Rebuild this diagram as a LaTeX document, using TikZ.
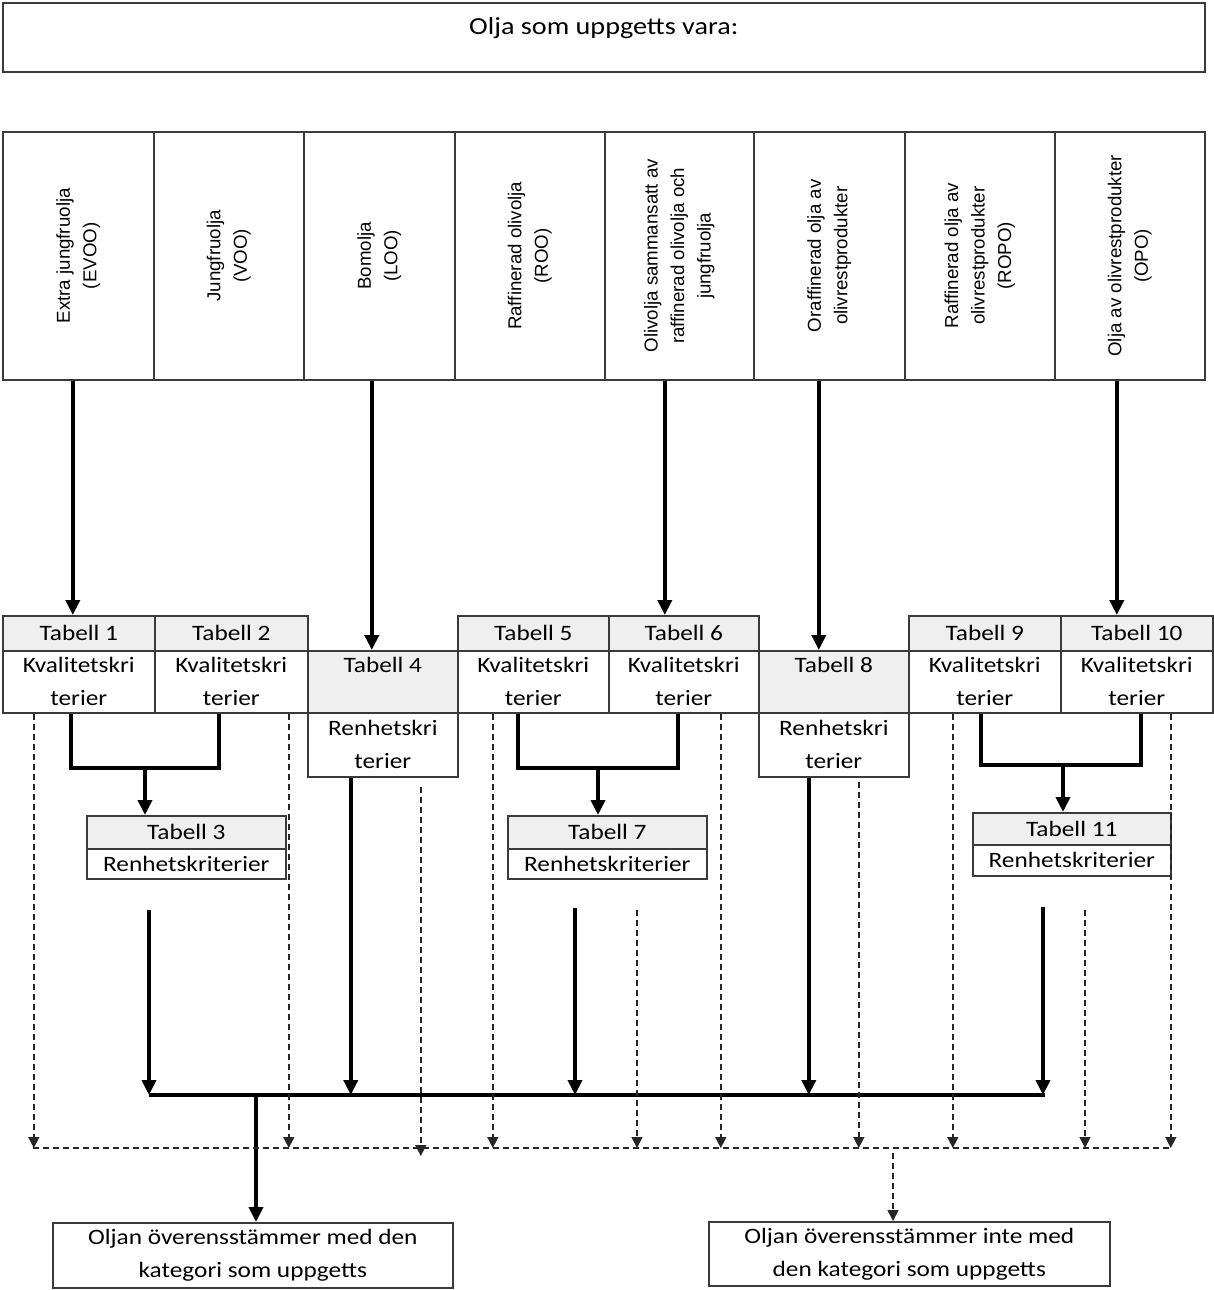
\documentclass[tikz,border=0pt]{standalone}
\usepackage{fontspec}
\setmainfont{Carlito}[FakeStretch=1.15]
\newfontfamily\rotfont{Liberation Sans}
\usetikzlibrary{arrows.meta,calc}
\definecolor{hdrgray}{HTML}{EFEFEF}
\definecolor{linegray}{HTML}{3A3A3A}
\begin{document}
\begin{tikzpicture}[x=1pt,y=-1pt,
  box/.style={draw=linegray, line width=1.6pt, inner sep=0pt, anchor=north west, align=center,
              font=\fontsize{22}{33}\selectfont},
  hdr/.style={box, fill=hdrgray},
  rottext/.style={rotate=90, align=center, inner sep=0pt, font=\rotfont\fontsize{18.7}{26.5}\selectfont},
  thk/.style={line width=4.5pt},
  thka/.style={thk, -{Triangle[width=14pt,length=15pt]}},
  dsh/.style={draw=black!85, line width=1.5pt, dash pattern=on 6pt off 4pt},
  dsha/.style={dsh, -{Triangle[width=11pt,length=11pt]}}
]
\useasboundingbox (0,0) rectangle (1214,1290);

% title
\node[box, minimum width=1202pt, minimum height=69pt, font=\fontsize{24.5}{30}\selectfont] (title) at (2,2)
  {\raisebox{23pt}{Olja som uppgetts vara:}};

% category boxes
\node[box, minimum width=151pt, minimum height=248pt] (c1) at (2,131) {};
\node[box, minimum width=150pt, minimum height=248pt] (c2) at (153,131) {};
\node[box, minimum width=151pt, minimum height=248pt] (c3) at (303,131) {};
\node[box, minimum width=150pt, minimum height=248pt] (c4) at (454,131) {};
\node[box, minimum width=149pt, minimum height=248pt] (c5) at (604,131) {};
\node[box, minimum width=151pt, minimum height=248pt] (c6) at (753,131) {};
\node[box, minimum width=150pt, minimum height=248pt] (c7) at (904,131) {};
\node[box, minimum width=150pt, minimum height=248pt] (c8) at (1054,131) {};

\node[rottext] (c1t) at (c1.center) {Extra jungfruolja\\(EVOO)};
\node[rottext] (c2t) at (c2.center) {Jungfruolja\\(VOO)};
\node[rottext] (c3t) at (c3.center) {Bomolja\\(LOO)};
\node[rottext] (c4t) at (c4.center) {Raffinerad olivolja\\(ROO)};
\node[rottext] (c5t) at (c5.center) {Olivolja sammansatt av\\raffinerad olivolja och\\jungfruolja};
\node[rottext] (c6t) at (c6.center) {Oraffinerad olja av\\olivrestprodukter};
\node[rottext] (c7t) at (c7.center) {Raffinerad olja av\\olivrestprodukter\\(ROPO)};
\node[rottext] (c8t) at (c8.center) {Olja av olivrestprodukter\\(OPO)};

% table row
\node[hdr, minimum width=152pt, minimum height=35pt] (t1h) at (2,615) {Tabell 1};
\node[box, minimum width=152pt, minimum height=62pt] (t1b) at (2,650) {Kvalitetskri\\terier};
\node[hdr, minimum width=153pt, minimum height=35pt] (t2h) at (154,615) {Tabell 2};
\node[box, minimum width=153pt, minimum height=62pt] (t2b) at (154,650) {Kvalitetskri\\terier};
\node[hdr, minimum width=150pt, minimum height=62pt] (t4g) at (307,650) {Tabell 4\\\phantom{terier}};
\node[box, minimum width=150pt, minimum height=64pt] (t4b) at (307,712) {Renhetskri\\terier};
\node[hdr, minimum width=151pt, minimum height=35pt] (t5h) at (457,615) {Tabell 5};
\node[box, minimum width=151pt, minimum height=62pt] (t5b) at (457,650) {Kvalitetskri\\terier};
\node[hdr, minimum width=150pt, minimum height=35pt] (t6h) at (608,615) {Tabell 6};
\node[box, minimum width=150pt, minimum height=62pt] (t6b) at (608,650) {Kvalitetskri\\terier};
\node[hdr, minimum width=150pt, minimum height=62pt] (t8g) at (758,650) {Tabell 8\\\phantom{terier}};
\node[box, minimum width=150pt, minimum height=64pt] (t8b) at (758,712) {Renhetskri\\terier};
\node[hdr, minimum width=152pt, minimum height=35pt] (t9h) at (908,615) {Tabell 9};
\node[box, minimum width=152pt, minimum height=62pt] (t9b) at (908,650) {Kvalitetskri\\terier};
\node[hdr, minimum width=152pt, minimum height=35pt] (t10h) at (1060,615) {Tabell 10};
\node[box, minimum width=152pt, minimum height=62pt] (t10b) at (1060,650) {Kvalitetskri\\terier};

% purity tables
\node[hdr, minimum width=199pt, minimum height=33pt] (t3h) at (86,815) {Tabell 3};
\node[box, minimum width=199pt, minimum height=30pt] (t3b) at (86,848) {Renhetskriterier};
\node[hdr, minimum width=199pt, minimum height=33pt] (t7h) at (507,815) {Tabell 7};
\node[box, minimum width=199pt, minimum height=30pt] (t7b) at (507,848) {Renhetskriterier};
\node[hdr, minimum width=198pt, minimum height=32pt] (t11h) at (972,812) {Tabell 11};
\node[box, minimum width=198pt, minimum height=31pt] (t11b) at (972,844) {Renhetskriterier};

% result boxes
\node[box, minimum width=400pt, minimum height=65pt] (ok) at (52,1222)
  {Oljan överensstämmer med den\\kategori som uppgetts};
\node[box, minimum width=401pt, minimum height=64pt] (notok) at (708,1221)
  {Oljan överensstämmer inte med\\den kategori som uppgetts};

% arrows from categories
\draw[thka] ([xshift=-5.5pt]c1.south) -- ([xshift=-6pt]t1h.north);
\draw[thka] ([xshift=-7.5pt]c3.south) -- ([xshift=-11pt]t4g.north);
\draw[thka] ([xshift=-14.5pt]c5.south) -- ([xshift=-19pt]t6h.north);
\draw[thka] ([xshift=-10.5pt]c6.south) -- ([xshift=-15pt]t8g.north);
\draw[thka] ([xshift=-13pt]c8.south) -- ([xshift=-20pt]t10h.north);

% joins to purity tables
\coordinate (j1) at (145,768);
\coordinate (j2) at (598,768);
\coordinate (j3) at (1063,765);
\draw[thk] ([xshift=-8pt]t1b.south) |- (j1) -| ([xshift=-12.5pt]t2b.south);
\draw[thka] (j1) -- (j1 |- t3h.north);
\draw[thk] ([xshift=-15.5pt]t5b.south) |- (j2) -| ([xshift=-6pt]t6b.south);
\draw[thka] (j2) -- (j2 |- t7h.north);
\draw[thk] ([xshift=-4pt]t9b.south) |- (j3) -| ([xshift=4pt]t10b.south);
\draw[thka] (j3) -- (j3 |- t11h.north);

% solid bus
\coordinate (busL) at (149,1095);
\coordinate (busR) at (1045,1095);
\coordinate (busO) at (256,1095);
\coordinate (s3) at (149,910);
\coordinate (s7) at (575,908);
\coordinate (s11) at (1043,907);
\draw[thk] (busL) -- (busR);
\draw[thka] (s3) -- (s3 |- busL);
\draw[thka] ([xshift=-32pt]t4b.south) -- ([xshift=-32pt]t4b.south |- busL);
\draw[thka] (s7) -- (s7 |- busL);
\draw[thka] ([xshift=-25pt]t8b.south) -- ([xshift=-25pt]t8b.south |- busL);
\draw[thka] (s11) -- (s11 |- busL);
\draw[thka] (busO) -- (busO |- ok.north);

% dashed bus
\coordinate (dL) at (33,1148);
\coordinate (dR) at (1172,1148);
\coordinate (dO) at (893,1153);
\coordinate (d7) at (637,910);
\coordinate (d11) at (1085,910);
\draw[dsh] (dL) -- (dR);
\draw[dsha] ([xshift=-45pt]t1b.south) -- ([xshift=-45pt]t1b.south |- dL);
\draw[dsha] ([xshift=57.5pt]t2b.south) -- ([xshift=57.5pt]t2b.south |- dL);
\draw[dsha] ([xshift=38pt,yshift=-9pt]t4b.south) -- ([xshift=38pt,yshift=-8pt]t4b.south |- dL);
\draw[dsha] ([xshift=-40.5pt]t5b.south) -- ([xshift=-40.5pt]t5b.south |- dL);
\draw[dsha] (d7) -- (d7 |- dL);
\draw[dsha] ([xshift=37pt]t6b.south) -- ([xshift=37pt]t6b.south |- dL);
\draw[dsha] ([xshift=25pt,yshift=-4pt]t8b.south) -- ([xshift=25pt]t8b.south |- dL);
\draw[dsha] ([xshift=-32pt]t9b.south) -- ([xshift=-32pt]t9b.south |- dL);
\draw[dsha] (d11) -- (d11 |- dL);
\draw[dsha] ([xshift=34pt]t10b.south) -- ([xshift=34pt]t10b.south |- dL);
\draw[dsha] (dO) -- (dO |- notok.north);
\end{tikzpicture}
\end{document}
